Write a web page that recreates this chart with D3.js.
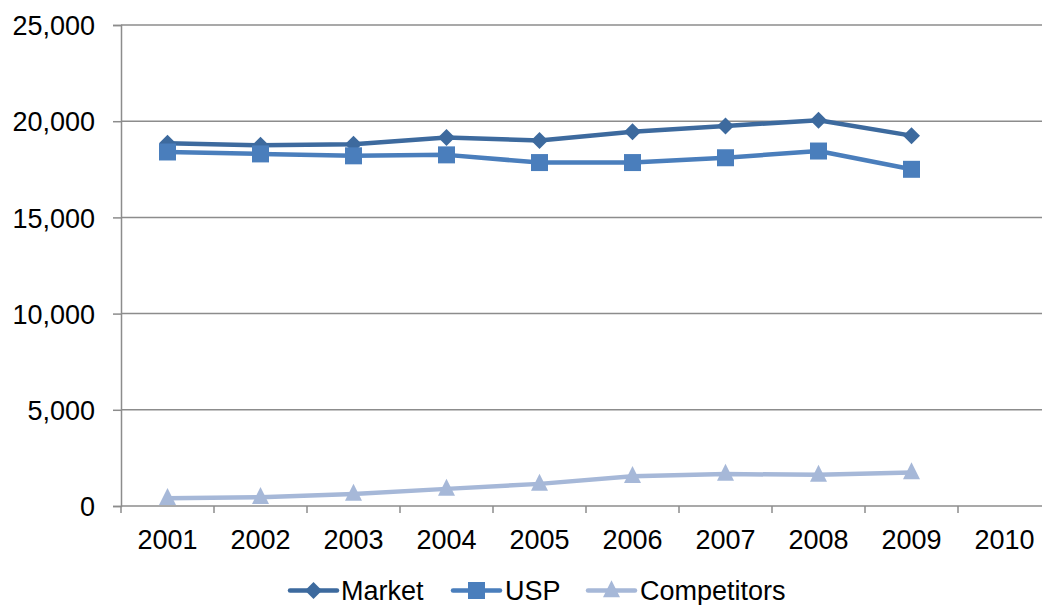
<!DOCTYPE html>
<html>
<head>
<meta charset="utf-8">
<script src="https://cdn.jsdelivr.net/npm/d3@7"></script>
<style>
  html, body { margin: 0; padding: 0; background: #fff; }
  svg { display: block; font-family: "Liberation Sans", Arial, sans-serif; }
</style>
</head>
<body>
<svg id="chart" width="1042" height="605"></svg>
<script>
// Yearly volumes
const years = ["2001", "2002", "2003", "2004", "2005", "2006", "2007", "2008", "2009", "2010"];
const market = [18850, 18750, 18800, 19150, 19000, 19450, 19750, 20050, 19250];
const usp = [18400, 18300, 18200, 18250, 17850, 17850, 18100, 18450, 17500];
const competitors = [400, 460, 630, 890, 1150, 1550, 1660, 1620, 1740];
const yTicks = [0, 5000, 10000, 15000, 20000, 25000];

const series = [
  { name: "Market", values: market, color: "#3d6a9e", marker: "diamond" },
  { name: "USP", values: usp, color: "#4a7ebc", marker: "square" },
  { name: "Competitors", values: competitors, color: "#a6b8d8", marker: "triangle" }
];

const svg = d3.select("#chart");
const plotLeft = 121, plotRight = 1051, plotTop = 25, plotBottom = 506;
const axisColor = "#8c8c8c";
const fontSize = 27;

const x = d3.scaleBand().domain(years).range([plotLeft, plotRight]);
const y = d3.scaleLinear().domain([0, 25000]).range([plotBottom, plotTop]);
const fmt = d3.format(",");

// gridlines
svg.append("g")
  .selectAll("line")
  .data(yTicks.filter(t => t > 0))
  .join("line")
  .attr("x1", plotLeft).attr("x2", plotRight)
  .attr("y1", d => y(d)).attr("y2", d => y(d))
  .attr("stroke", axisColor).attr("stroke-width", 1.5);

// y axis
const yAxis = svg.append("g")
  .attr("transform", `translate(${plotLeft},0)`)
  .call(d3.axisLeft(y).tickValues(yTicks).tickFormat(fmt).tickSize(8).tickPadding(18));
yAxis.select(".domain").attr("stroke", axisColor).attr("stroke-width", 1.5);
yAxis.selectAll(".tick line").attr("stroke", axisColor).attr("stroke-width", 1.5);
yAxis.selectAll(".tick text")
  .attr("font-size", fontSize).attr("fill", "#000")
  .attr("font-family", "Liberation Sans, Arial, sans-serif")
  .attr("dy", "0.36em");

// x axis with ticks on band boundaries
const xAxis = svg.append("g")
  .attr("transform", `translate(0,${plotBottom})`);
xAxis.append("line")
  .attr("x1", plotLeft).attr("x2", plotRight)
  .attr("stroke", axisColor).attr("stroke-width", 1.5);
xAxis.selectAll("line.tk")
  .data(years)
  .join("line").attr("class", "tk")
  .attr("x1", d => x(d)).attr("x2", d => x(d))
  .attr("y1", 0).attr("y2", 7)
  .attr("stroke", axisColor).attr("stroke-width", 1.5);
xAxis.selectAll("text")
  .data(years)
  .join("text")
  .attr("x", d => x(d) + x.bandwidth() / 2)
  .attr("y", 43)
  .attr("text-anchor", "middle")
  .attr("font-size", fontSize)
  .attr("fill", "#000")
  .text(d => d);

function markerPath(type, cx, cy) {
  if (type === "diamond") {
    const r = 8.5;
    return `M${cx},${cy - r}L${cx + r},${cy}L${cx},${cy + r}L${cx - r},${cy}Z`;
  }
  if (type === "square") {
    const h = 8.5;
    return `M${cx - h},${cy - h}H${cx + h}V${cy + h}H${cx - h}Z`;
  }
  const w = 8.5, ht = 17;
  return `M${cx},${cy - ht * 0.6}L${cx + w},${cy + ht * 0.4}L${cx - w},${cy + ht * 0.4}Z`;
}

const line = d3.line()
  .x((d, i) => x(years[i]) + x.bandwidth() / 2)
  .y(d => y(d));

series.forEach(s => {
  const g = svg.append("g");
  g.append("path")
    .attr("d", line(s.values))
    .attr("fill", "none")
    .attr("stroke", s.color)
    .attr("stroke-width", 4.5)
    .attr("stroke-linejoin", "round")
    .attr("stroke-linecap", "round");
  g.selectAll("path.m")
    .data(s.values)
    .join("path").attr("class", "m")
    .attr("d", (d, i) => markerPath(s.marker, x(years[i]) + x.bandwidth() / 2, y(d)))
    .attr("fill", s.color);
});

// legend
const legendItems = [
  { s: series[0], x0: 290, tx: 341 },
  { s: series[1], x0: 453, tx: 505 },
  { s: series[2], x0: 588, tx: 640 }
];
const ly = 590.5;
const lg = svg.append("g");
legendItems.forEach(it => {
  lg.append("line")
    .attr("x1", it.x0).attr("x2", it.x0 + 47)
    .attr("y1", ly).attr("y2", ly)
    .attr("stroke", it.s.color).attr("stroke-width", 4.5)
    .attr("stroke-linecap", "round");
  lg.append("path")
    .attr("d", markerPath(it.s.marker, it.x0 + 23.5, ly))
    .attr("fill", it.s.color);
  lg.append("text")
    .attr("x", it.tx).attr("y", ly + 9.5)
    .attr("font-size", fontSize).attr("fill", "#000")
    .text(it.s.name);
});
</script>
</body>
</html>
